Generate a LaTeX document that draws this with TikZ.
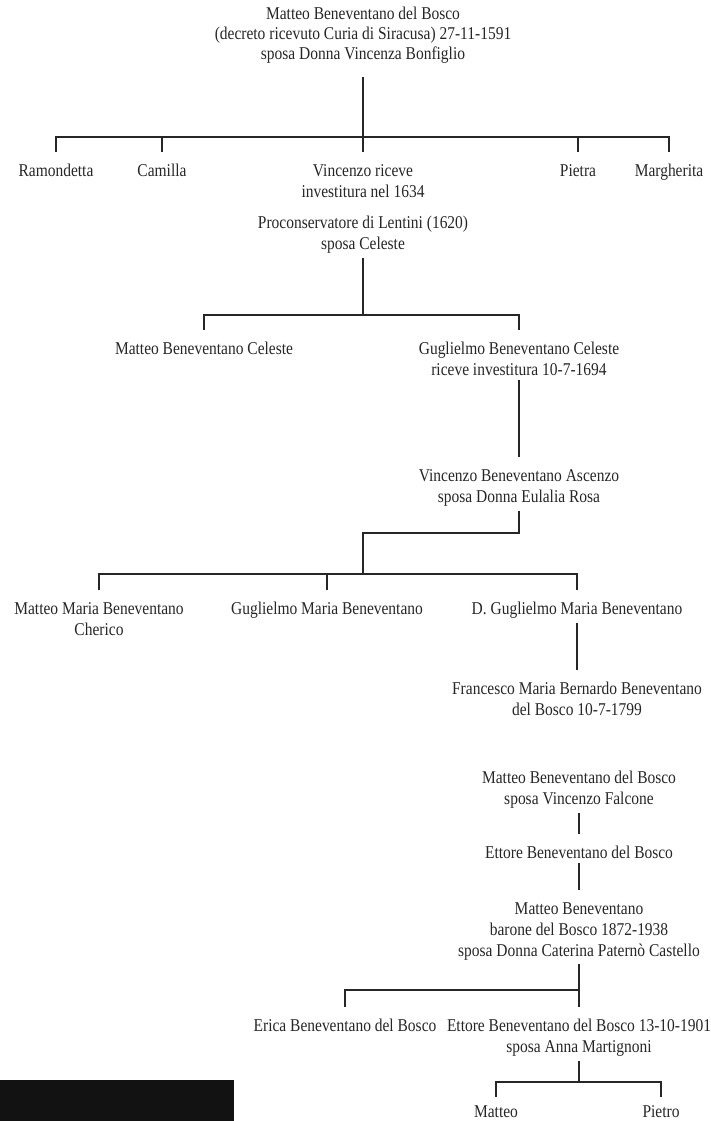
\documentclass[tikz,border=0pt]{standalone}
\usepackage{fontspec}
\setmainfont[FakeStretch=0.86]{Liberation Serif}
\usetikzlibrary{positioning}

\definecolor{ink}{HTML}{262626}

\begin{document}
\begin{tikzpicture}[x=0.5pt, y=-0.5pt,
   person/.style={align=center, inner sep=0pt, anchor=north, text=ink,
      font=\fontsize{9}{10.5}\selectfont},
   stem/.style={draw=ink, line width=0.65pt, shorten <=2pt},
   drop/.style={draw=ink, line width=0.65pt, shorten >=6pt},
   link/.style={stem, drop}]

   \useasboundingbox (0,0) rectangle (711,1121);

   % capostipite
   \node[person, font=\fontsize{9}{9.8}\selectfont] (top) at (363,7)
      {Matteo Beneventano del Bosco\\
       (decreto ricevuto Curia di Siracusa) 27-11-1591\\
       sposa Donna Vincenza Bonfiglio};

   % figli
   \coordinate (j1) at (363,137);
   \node[person] (ramo)   at (56,164)  {Ramondetta};
   \node[person] (cam)    at (162,164) {Camilla};
   \node[person] (vinc)   at (363,164)
      {Vincenzo riceve\\investitura nel 1634\\[5pt]
       Proconservatore di Lentini (1620)\\sposa Celeste};
   \node[person] (pietra) at (578,164) {Pietra};
   \node[person] (marg)   at (669,164) {Margherita};

   \draw[stem, shorten <=7pt] (top) -- (j1);
   \foreach \c in {ramo, cam, vinc, pietra, marg}
      \draw[drop] (j1) -| (\c);

   % nipoti
   \coordinate (j2) at (363,315);
   \node[person] (mbc) at (204,342) {Matteo Beneventano Celeste};
   \node[person] (gbc) at (519,342)
      {Guglielmo Beneventano Celeste\\riceve investitura 10-7-1694};

   \draw[stem] (vinc) -- (j2);
   \foreach \c in {mbc, gbc}
      \draw[drop] (j2) -| (\c);

   \node[person] (asc) at (519,469)
      {Vincenzo Beneventano Ascenzo\\sposa Donna Eulalia Rosa};
   \draw[link] (gbc) -- (asc);

   % figli di Vincenzo Ascenzo
   \coordinate (k3) at (519,533);
   \coordinate (j3) at (363,574);
   \node[person] (mmb) at (99,602)  {Matteo Maria Beneventano\\Cherico};
   \node[person] (gmb) at (327,602) {Guglielmo Maria Beneventano};
   \node[person] (dgm) at (577,602) {D. Guglielmo Maria Beneventano};

   \draw[stem] (asc) -- (k3) -| (j3);
   \foreach \c in {mmb, gmb, dgm}
      \draw[drop] (j3) -| (\c);

   \node[person] (fmb) at (577,682)
      {Francesco Maria Bernardo Beneventano\\del Bosco 10-7-1799};
   \draw[link] (dgm) -- (fmb);

   % ramo del Bosco
   \node[person] (mbb)  at (579,771)
      {Matteo Beneventano del Bosco\\sposa Vincenzo Falcone};
   \node[person] (ebb)  at (579,846) {Ettore Beneventano del Bosco};
   \node[person] (mbar) at (579,902)
      {Matteo Beneventano\\barone del Bosco 1872-1938\\
       sposa Donna Caterina Patern\`o Castello};
   \draw[link] (mbb) -- (ebb);
   \draw[link] (ebb) -- (mbar);

   \coordinate (j4) at (579,990);
   \node[person] (eri) at (345,1019) {Erica Beneventano del Bosco};
   \node[person] (ett) at (579,1019)
      {Ettore Beneventano del Bosco 13-10-1901\\sposa Anna Martignoni};
   \draw[stem] (mbar) -- (j4);
   \foreach \c in {eri, ett}
      \draw[drop] (j4) -| (\c);

   \coordinate (j5) at (579,1082);
   \node[person] (mat)    at (496,1105) {Matteo};
   \node[person] (pietro) at (661,1105) {Pietro};
   \draw[stem] (ett) -- (j5);
   \foreach \c in {mat, pietro}
      \draw[drop, shorten >=4pt] (j5) -| (\c);

   % striscia nera in basso
   \fill[black!93] (0,1080) rectangle (234,1121);
\end{tikzpicture}
\end{document}
